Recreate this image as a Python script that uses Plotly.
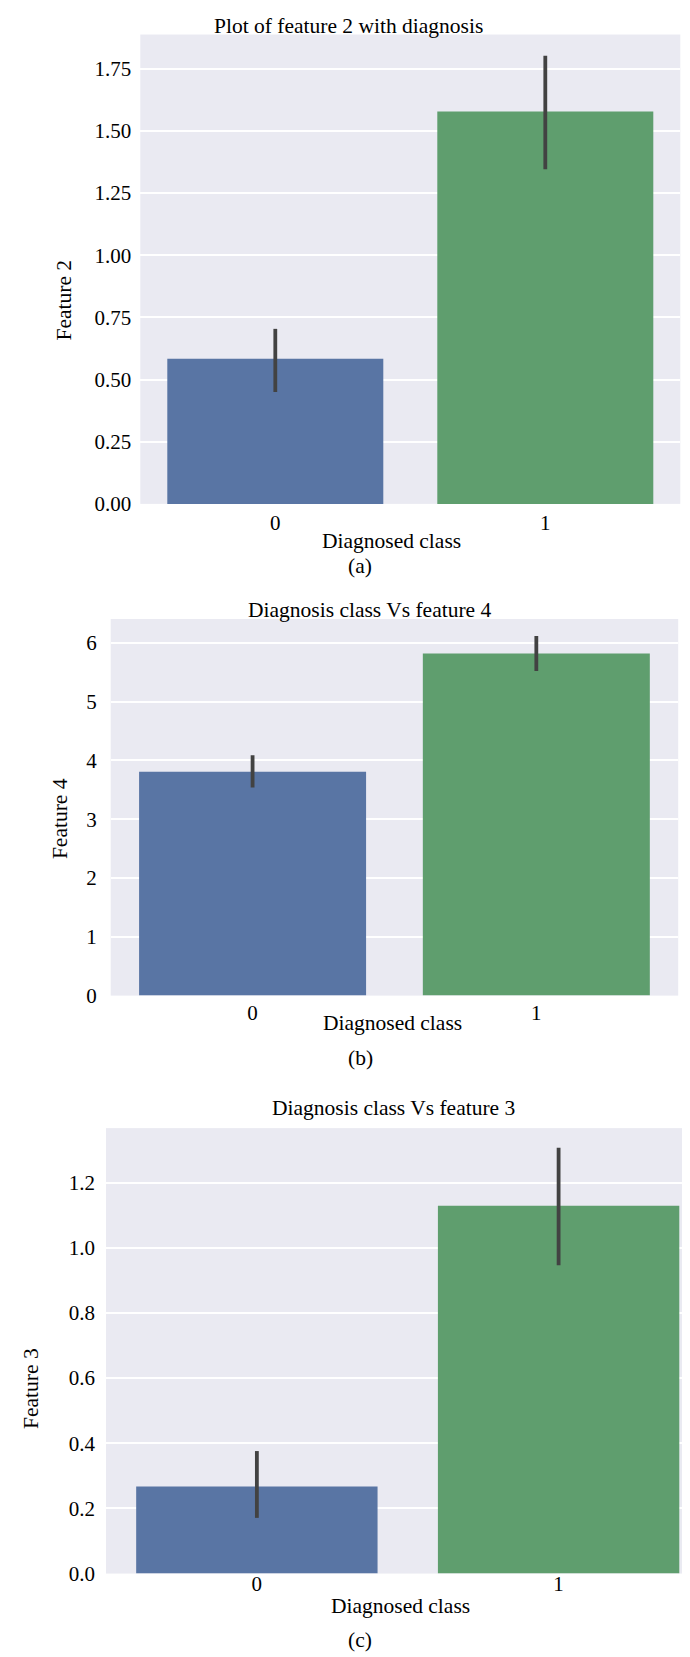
import plotly.graph_objects as go

# ---- data ----
classes = ["0", "1"]

feat2_mean = [0.584, 1.578]
feat2_low = [0.450, 1.346]
feat2_high = [0.704, 1.803]

feat4_mean = [3.806, 5.818]
feat4_low = [3.54, 5.52]
feat4_high = [4.086, 6.116]

feat3_mean = [0.2675, 1.129]
feat3_low = [0.171, 0.946]
feat3_high = [0.376, 1.307]

titles = ["Plot of feature 2 with diagnosis", "Diagnosis class Vs feature 4", "Diagnosis class Vs feature 3"]
ylabels = ["Feature 2", "Feature 4", "Feature 3"]
xlabel = "Diagnosed class"
panel_tags = ["(a)", "(b)", "(c)"]

# ---- style ----
W, H = 690, 1657
FONT = "Liberation Serif, Times New Roman, serif"
FS_TICK = 21
FS_TEXT = 21.5
bar_colors = ["#5975A4", "#5F9E6E"]
err_color = "#424242"
bg = "#EAEAF2"

fig = go.Figure()

panels = [
    (feat2_mean, feat2_low, feat2_high),
    (feat4_mean, feat4_low, feat4_high),
    (feat3_mean, feat3_low, feat3_high),
]

for i, (m, lo, hi) in enumerate(panels):
    sfx = "" if i == 0 else str(i + 1)
    fig.add_trace(go.Bar(
        x=classes, y=m,
        marker=dict(color=bar_colors, line=dict(width=0)),
        error_y=dict(type="data", symmetric=False,
                     array=[h - v for h, v in zip(hi, m)],
                     arrayminus=[v - l for v, l in zip(m, lo)],
                     color=err_color, thickness=3.8, width=0),
        xaxis="x" + sfx, yaxis="y" + sfx,
        showlegend=False, hoverinfo="skip",
    ))

def px_to_paper_y(py):
    return 1 - py / H

def px_to_paper_x(px):
    return px / W

# plot areas in pixels: (left, right, top, bottom)
areas = [
    (132.3, 672.3, 26.7, 499.5),
    (102.7, 670.2, 615.5, 994.8),
    (98, 690, 1128.3, 1577),
]
yranges = [[0, 1.888], [0, 6.404], [0, 1.367]]
xranges = [[-0.5, 1.5], [-0.5, 1.5], [-0.5, 1.462]]
ydticks = [0.25, 1, 0.2]
ytickfmt = [".2f", "d", ".1f"]
xstandoff = [4, 2, -5]
ystandoff = [8, 13, 10]

layout = dict(
    width=W, height=H,
    margin=dict(l=0, r=0, t=0, b=0),
    paper_bgcolor="white", plot_bgcolor=bg,
    font=dict(family=FONT, size=FS_TICK, color="black"),
    bargap=0.2,
)

for i in range(3):
    sfx = "" if i == 0 else str(i + 1)
    l, r, t, b = areas[i]
    layout["xaxis" + sfx] = dict(
        domain=[px_to_paper_x(l), min(1.0, px_to_paper_x(r))],
        anchor="y" + sfx, type="category", range=xranges[i],
        showgrid=False, zeroline=False, showline=False, ticks="",
        tickfont=dict(family=FONT, size=FS_TICK, color="black"),
        ticklabelstandoff=xstandoff[i],
    )
    layout["yaxis" + sfx] = dict(
        domain=[px_to_paper_y(b), px_to_paper_y(t)],
        anchor="x" + sfx, range=yranges[i],
        dtick=ydticks[i], tick0=0, tickformat=ytickfmt[i],
        showgrid=True, gridcolor="white", gridwidth=1.7,
        zeroline=False, showline=False, ticks="",
        tickfont=dict(family=FONT, size=FS_TICK, color="black"),
        ticklabelstandoff=ystandoff[i],
    )

fig.update_layout(**layout)

# titles, axis labels and panel tags (pixel positions of centers)
title_pos = [(340, 18), (361, 606.5), (386, 1108)]
xlab_pos = [(383.7, 537), (384.5, 1022.5), (392.6, 1610)]
ylab_pos = [(56, 293.6), (52, 817), (23, 1391)]
tag_pos = [(352, 562.5), (352, 1058), (352, 1644)]

ann = []
for i in range(3):
    for txt, (px, py), ang in [
        (titles[i], title_pos[i], 0),
        (xlabel, xlab_pos[i], 0),
        (ylabels[i], ylab_pos[i], -90),
        (panel_tags[i], tag_pos[i], 0),
    ]:
        ann.append(dict(
            text=txt, x=px_to_paper_x(px), y=px_to_paper_y(py),
            xref="paper", yref="paper", xanchor="center", yanchor="middle",
            showarrow=False, textangle=ang,
            font=dict(family=FONT, size=FS_TEXT, color="black"),
        ))
fig.update_layout(annotations=ann)

fig.write_html("out.html")
